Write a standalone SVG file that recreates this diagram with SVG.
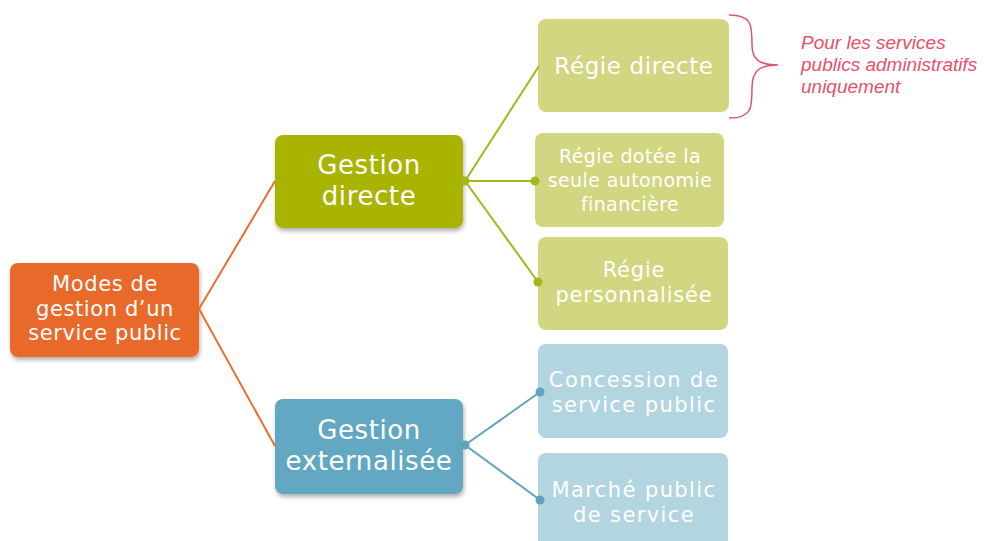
<svg xmlns="http://www.w3.org/2000/svg" width="996" height="541" viewBox="0 0 996 541">
<style>
.t{font-family:"DejaVu Sans","Liberation Sans",sans-serif;fill:#fff;text-anchor:middle}
.l0{font-size:21px;letter-spacing:0.6px}
.l1{font-size:26px;letter-spacing:0.6px}
.l2{font-size:21px;letter-spacing:0.8px}
.l2w{font-size:21px;letter-spacing:1.4px}
.l2b{font-size:23px;letter-spacing:0.6px}
.l2s{font-size:19px;letter-spacing:0.4px}
.orange{stroke:#E8702E;stroke-width:2;fill:none}
.green{stroke:#A6B41E;stroke-width:2;fill:none}
.blue{stroke:#5FA4BE;stroke-width:2;fill:none}
.gdot{fill:#A6B41E}
.bdot{fill:#5FA4BE}
.note{font-family:"Liberation Sans",sans-serif;font-style:italic;font-size:19px;fill:#E8506A}
</style>
<defs>
<filter id="sh" x="-10%" y="-10%" width="125%" height="130%">
<feDropShadow dx="1" dy="3" stdDeviation="2" flood-color="#000" flood-opacity="0.3"/>
</filter>
</defs>
<rect width="996" height="541" fill="#fff"/>
<g id="root">
<rect x="10" y="263" width="189" height="94" rx="8" fill="#E8692A" filter="url(#sh)"/>
<text class="t l0" x="105" y="291">Modes de</text>
<text class="t l0" x="105" y="315.5">gestion d’un</text>
<text class="t l0" x="105" y="340">service public</text>
</g>
<g id="gestion-directe">
<rect x="275" y="135" width="188" height="93" rx="8" fill="#A8B400" filter="url(#sh)"/>
<text class="t l1" x="369" y="174">Gestion</text>
<text class="t l1" x="369" y="204.5">directe</text>
</g>
<g id="gestion-externalisee">
<rect x="275" y="399" width="188" height="95" rx="8" fill="#64A8C2" filter="url(#sh)"/>
<text class="t l1" x="369" y="439">Gestion</text>
<text class="t l1" x="369" y="469.5">externalisée</text>
</g>
<g id="regie-directe">
<rect x="538" y="19" width="191" height="93" rx="8" fill="#D3D680"/>
<text class="t l2b" x="634" y="74">Régie directe</text>
</g>
<g id="regie-dotee">
<rect x="535" y="133" width="189" height="94" rx="8" fill="#D3D680"/>
<text class="t l2s" x="630" y="163">Régie dotée la</text>
<text class="t l2s" x="630" y="187">seule autonomie</text>
<text class="t l2s" x="630" y="211">financière</text>
</g>
<g id="regie-personnalisee">
<rect x="538" y="237" width="190" height="93" rx="8" fill="#D3D680"/>
<text class="t l2" x="634" y="277">Régie</text>
<text class="t l2" x="634" y="302">personnalisée</text>
</g>
<g id="concession">
<rect x="538" y="344" width="190" height="94" rx="8" fill="#B2D5E0"/>
<text class="t l2w" x="634" y="387">Concession de</text>
<text class="t l2w" x="634" y="412">service public</text>
</g>
<g id="marche">
<rect x="538" y="453" width="190" height="96" rx="8" fill="#B2D5E0"/>
<text class="t l2w" x="634" y="497">Marché public</text>
<text class="t l2w" x="634" y="522">de service</text>
</g>
<g id="connectors">
<line class="orange" x1="199" y1="309" x2="275" y2="181"/>
<line class="orange" x1="199" y1="309" x2="275" y2="446"/>
<line class="green" x1="465" y1="181" x2="539" y2="66"/>
<line class="green" x1="465" y1="181" x2="535" y2="181"/>
<line class="green" x1="465" y1="181" x2="538" y2="282"/>
<circle class="gdot" cx="465" cy="181" r="4.5"/>
<circle class="gdot" cx="535" cy="181" r="4.5"/>
<circle class="gdot" cx="538" cy="282" r="4.5"/>
<line class="blue" x1="465" y1="445" x2="540" y2="392"/>
<line class="blue" x1="465" y1="445" x2="540" y2="500"/>
<circle class="bdot" cx="465" cy="445" r="4.5"/>
<circle class="bdot" cx="540" cy="392" r="4.5"/>
<circle class="bdot" cx="540" cy="500" r="4.5"/>
</g>
<g id="note">
<path d="M729,15 C752,15 752,25 752,45 C752,60 760,65 778,65 C760,65 752,70 752,88 C752,108 752,118 729,118" fill="none" stroke="#E8506A" stroke-width="1.5"/>
<text class="note" x="801" y="49">Pour les services</text>
<text class="note" x="801" y="71">publics administratifs</text>
<text class="note" x="801" y="93">uniquement</text>
</g>
</svg>
